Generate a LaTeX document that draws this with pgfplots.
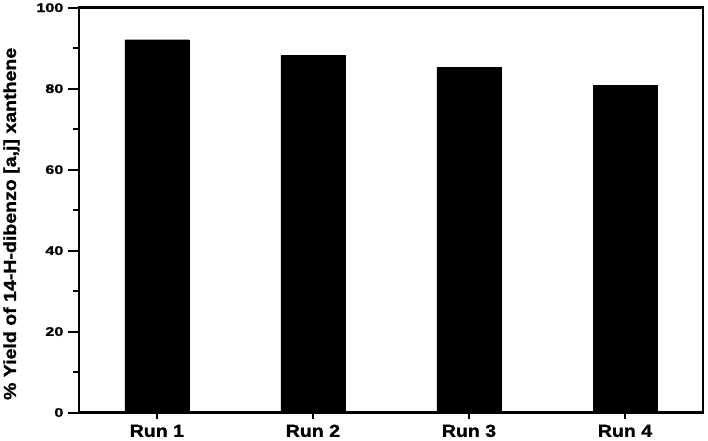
\documentclass[border=0pt]{standalone}
\usepackage{pgfplots}
\pgfplotsset{compat=1.18}
\usepackage{fontspec}
\setmainfont{Liberation Sans}[FakeStretch=1.12]
\newfontfamily\heavy{Liberation Sans Bold}[FakeStretch=1.12, FakeBold=1.2]
\newfontfamily\heavywide{Liberation Sans Bold}[FakeStretch=1.3, FakeBold=1.4]
\begin{document}
\begin{tikzpicture}
\begin{axis}[
  width=626pt, height=406pt, scale only axis,
  xmin=0.5, xmax=4.5, ymin=0, ymax=100,
  ybar, bar width=0.41,
  xtick={1,2,3,4}, xticklabels={Run 1,Run 2,Run 3,Run 4},
  minor xtick={1,2,3,4},
  ytick={0,20,...,100}, minor ytick={10,30,50,70,90},
  xtick pos=lower, ytick pos=left,
  tick align=outside,
  major tick length=11pt, minor tick length=6pt,
  every major x tick/.append style={draw=none},
  every tick/.append style={line width=2pt, black},
  axis line style={line width=2.6pt},
  /pgf/number format/assume math mode=true,
  yticklabel style={font=\heavywide\fontsize{12.5}{14}\selectfont, xshift=-1pt},
  xticklabel style={font=\heavy\fontsize{17.5}{20}\selectfont, text height=1.3ex, text depth=0pt, yshift=-3pt},
  ylabel={\% Yield of 14-H-dibenzo [a,j] xanthene},
  ylabel style={font=\heavy\fontsize{17.5}{20}\selectfont, at={(axis description cs:-0.108,0.466)}, anchor=center},
  clip=false,
]
\addplot[draw=black, fill=black] coordinates {(1,92.1) (2,88.2) (3,85.2) (4,80.8)};
\end{axis}
\path (current axis.north east) ++(5pt,0);
\end{tikzpicture}
\end{document}
